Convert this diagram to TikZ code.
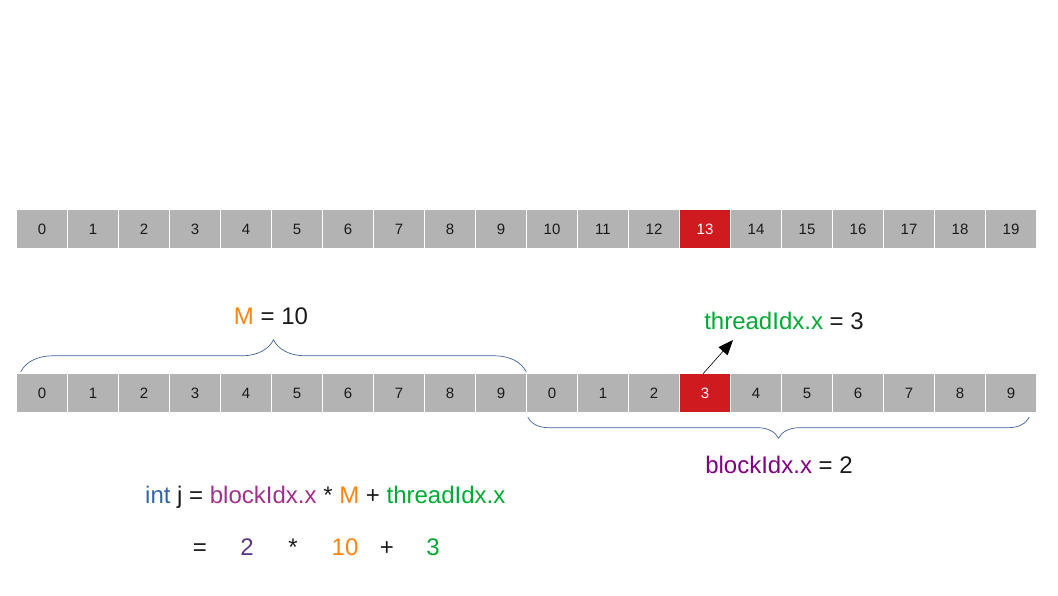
\documentclass[tikz,border=0pt]{standalone}
\usepackage{fontspec}
\setmainfont{Liberation Sans}
\usetikzlibrary{decorations.pathreplacing,arrows.meta}
\definecolor{cellgray}{HTML}{B3B3B3}
\definecolor{cellred}{HTML}{CF1A20}
\definecolor{braceblue}{HTML}{3D6399}
\definecolor{intblue}{HTML}{3465A4}
\definecolor{bmag}{HTML}{A0308C}
\definecolor{bpurple}{HTML}{800080}
\definecolor{dpurple}{HTML}{5B3588}
\definecolor{orangeM}{HTML}{FF8410}
\definecolor{greenT}{HTML}{00A933}
\definecolor{txt}{HTML}{1A1A1A}
\begin{document}
\begin{tikzpicture}[x=1pt,y=-1pt,
  cell/.style={minimum width=50pt,minimum height=38pt,inner sep=0pt,fill=cellgray,
    text=txt,font=\fontsize{15}{18}\selectfont},
  hot/.style={fill=cellred,text=white},
  lbl/.style={inner sep=0pt,anchor=base,text=txt,font=\fontsize{24}{28}\selectfont},
  bracestyle/.style={draw=braceblue,line width=0.7pt,decorate}]
\useasboundingbox (0,0) rectangle (1058,595);
% top row
\foreach \i in {0,...,19}{
  \ifnum\i=13
    \node[cell,hot] (t\i) at ({42+51*\i},229) {\i};
  \else
    \node[cell] (t\i) at ({42+51*\i},229) {\i};
  \fi
}
% bottom row
\foreach \i in {0,...,19}{
  \pgfmathtruncatemacro{\lab}{mod(\i,10)}
  \ifnum\i=13
    \node[cell,hot] (b\i) at ({42+51*\i},393) {\lab};
  \else
    \node[cell] (b\i) at ({42+51*\i},393) {\lab};
  \fi
}
% braces
\draw[bracestyle,decoration={brace,amplitude=32pt}]
  ([xshift=4pt,yshift=2pt]b0.north west) -- ([yshift=2pt]b9.north east);
\draw[bracestyle,decoration={brace,amplitude=21pt}]
  ([xshift=-7pt,yshift=-5pt]b19.south east) -- ([xshift=1pt,yshift=-5pt]b10.south west);
% labels
\node[lbl] (mlabel) at (271,324) {\textcolor{orangeM}{M} = 10};
\node[lbl] (tlabel) at (784,329) {\textcolor{greenT}{threadIdx.x} = 3};
\node[lbl] (blabel) at (779,473) {\textcolor{bpurple}{blockIdx.x} = 2};
% arrow
\coordinate (atip) at (733,340);
\draw[line width=0.6pt,-{Triangle[length=15pt,width=12pt]}] ([xshift=-2pt]b13.north) -- (atip);
% formula
\node[lbl,anchor=base west] (f1) at (145,503)
  {\textcolor{intblue}{int} j = \textcolor{bmag}{blockIdx.x} * \textcolor{orangeM}{M} + \textcolor{greenT}{threadIdx.x}};
\node[lbl] (f2a) at (200,555) {=};
\node[lbl] (f2b) at (247,555) {\textcolor{dpurple}{2}};
\node[lbl] (f2c) at (293,555) {*};
\node[lbl] (f2d) at (345,555) {\textcolor{orangeM}{10}};
\node[lbl] (f2e) at (387,555) {+};
\node[lbl] (f2f) at (433,555) {\textcolor{greenT}{3}};
\end{tikzpicture}
\end{document}
